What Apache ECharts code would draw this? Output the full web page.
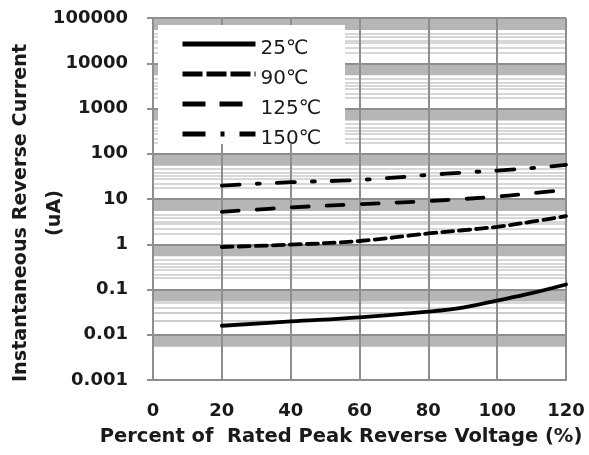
<!DOCTYPE html>
<html><head><meta charset="utf-8">
<script src="https://cdn.jsdelivr.net/npm/echarts@6/dist/echarts.min.js"></script>
<style>html,body{margin:0;padding:0;background:#fff}#c{width:589px;height:455px}</style>
</head><body><div id="c"></div>
<script>
// ---- data ----
const xValues   = [20, 40, 60, 80, 90, 100, 110, 120];
const s25       = [0.0158, 0.0197, 0.0243, 0.0325, 0.040, 0.057, 0.083, 0.129];
const s90       = [0.87, 0.98, 1.18, 1.73, 2.04, 2.43, 3.15, 4.2];
const s125      = [5.2, 6.5, 7.7, 9.0, 10.0, 11.3, 13.4, 15.8];
const s150      = [19.8, 23.5, 26.4, 34, 38.4, 42.5, 48, 57];
const seriesNames = ['25℃', '90℃', '125℃', '150℃'];
const xTickLabels = ['0', '20', '40', '60', '80', '100', '120'];
const yTicks      = [0.001, 0.01, 0.1, 1, 10, 100, 1000, 10000, 100000];
const yTickLabels = ['0.001', '0.01', '0.1', '1', '10', '100', '1000', '10000', '100000'];
const xName = 'Percent of  Rated Peak Reverse Voltage (%)';
const yName = 'Instantaneous Reverse Current\n(uA)';

// background grid styling (bands + fine lines inside every decade)
const decadeStarts = [0.001, 0.01, 0.1, 1, 10, 100, 1000, 10000];
const bandLow = 5.4;
const fineLines = [4.6, 3.8, 3.2, 2.8, 2.15, 1.75];

const FONT = 'DejaVu Sans';
const TXT = '#1a1a1a';
const GRID = '#8e8e8e';

const allSeries = [s25, s90, s125, s150];
const dashes = ['solid', [11, 6], [17, 18], [18, 17, 3, 17]];
const legendDashes = ['solid', [20, 4], [23, 14], [23, 15, 4, 15]];

const bandData = decadeStarts.map(d => [{ yAxis: d * bandLow }, { yAxis: d * 10 }]);
const fineData = [];
decadeStarts.forEach(d => fineLines.forEach(f => fineData.push({ yAxis: d * f })));

const series = allSeries.map((arr, i) => ({
  name: seriesNames[i],
  type: 'line',
  smooth: 0.4,
  symbol: 'none',
  z: 4,
  color: '#000',
  lineStyle: { color: '#000', width: 3.8, type: dashes[i], cap: 'round' },
  data: xValues.map((x, j) => [x, arr[j]])
}));

series.unshift({
  name: 'bg',
  type: 'line',
  data: [],
  silent: true,
  z: 1,
  markArea: {
    silent: true, z: 1,
    itemStyle: { color: '#b6b6b6' },
    data: bandData
  },
  markLine: {
    silent: true, z: 2, symbol: 'none',
    label: { show: false },
    lineStyle: { color: '#cacaca', width: 1.5, type: 'solid' },
    data: fineData
  }
});

const chart = echarts.init(document.getElementById('c'));
chart.setOption({
  animation: false,
  backgroundColor: '#fff',
  grid: { left: 153, right: 23, top: 18, bottom: 75, outerBoundsMode: 'none', containLabel: false },
  graphic: [{
    type: 'rect', z: 5, silent: true,
    shape: { x: 158, y: 25, width: 187, height: 119 },
    style: { fill: '#fff' }
  }],
  legend: {
    orient: 'vertical', left: 158, top: 25, z: 10,
    padding: [4, 26, 2, 22],
    itemWidth: 73, itemHeight: 14, itemGap: 0, itemTextGap: 4,
    formatter: n => '{t|' + n + '}',
    textStyle: {
      fontFamily: FONT, fontSize: 20, color: TXT,
      rich: { t: { fontFamily: FONT, fontSize: 20, color: TXT, lineHeight: 18, padding: [10, 0, 0, 0] } }
    },
    lineStyle: { width: 5, cap: 'butt' },
    itemStyle: { opacity: 0, borderWidth: 0 },
    data: seriesNames.map((n, i) => ({
      name: n,
      itemStyle: { opacity: 0, borderWidth: 0, color: 'rgba(0,0,0,0)' },
      lineStyle: { type: legendDashes[i], width: 5, cap: 'butt' }
    }))
  },
  xAxis: {
    type: 'value', min: 0, max: 120, interval: 20, z: 3,
    axisLine: { show: true, lineStyle: { color: GRID, width: 2 } },
    axisTick: { show: false },
    axisLabel: {
      margin: 22, fontFamily: FONT, fontSize: 18, fontWeight: 'bold', color: TXT,
      formatter: v => xTickLabels[Math.round(v / 20)]
    },
    splitLine: { show: true, lineStyle: { color: GRID, width: 2 } },
    name: xName, nameLocation: 'middle', nameGap: 47, nameMoveOverlap: false,
    nameTextStyle: { fontFamily: FONT, fontSize: 19.5, fontWeight: 'bold', color: TXT, padding: [0, 37, 0, 0] }
  },
  yAxis: {
    type: 'log', logBase: 10, min: 0.001, max: 100000, interval: 1, z: 3,
    axisLine: { show: true, lineStyle: { color: GRID, width: 2 } },
    axisTick: { show: true, length: 6, lineStyle: { color: GRID, width: 2 } },
    axisLabel: {
      margin: 25, fontFamily: FONT, fontSize: 18, fontWeight: 'bold', color: TXT,
      formatter: v => {
        let best = 0;
        yTicks.forEach((t, i) => { if (Math.abs(Math.log10(t) - Math.log10(v)) < Math.abs(Math.log10(yTicks[best]) - Math.log10(v))) best = i; });
        return yTickLabels[best];
      }
    },
    splitLine: { show: true, lineStyle: { color: GRID, width: 2 } },
    minorTick: { show: false },
    name: yName, nameLocation: 'middle', nameGap: 81, nameMoveOverlap: false,
    nameTextStyle: { fontFamily: FONT, fontSize: 19.2, fontWeight: 'bold', color: TXT, lineHeight: 34, padding: [0, 28, 0, 0] }
  },
  series: series
});
</script>
</body></html>
